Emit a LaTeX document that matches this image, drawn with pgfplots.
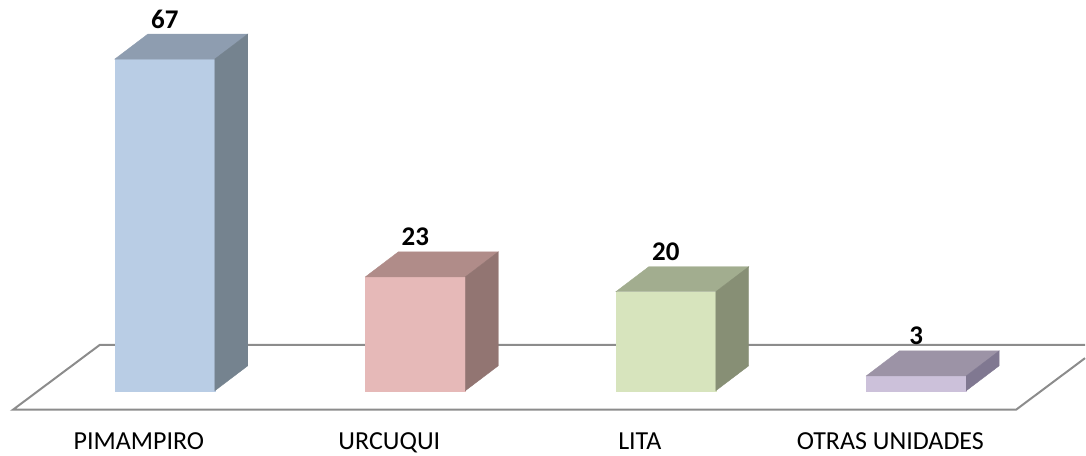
\documentclass[border=0pt]{standalone}
\usepackage{pgfplots}
\pgfplotsset{compat=1.18}
\usepackage{fontspec}
\setmainfont{Carlito}

% front / top / side colours
\definecolor{fA}{HTML}{B9CDE5}\definecolor{tA}{HTML}{8E9DB0}\definecolor{sA}{HTML}{75838F}
\definecolor{fB}{HTML}{E6B9B8}\definecolor{tB}{HTML}{B08C89}\definecolor{sB}{HTML}{927572}
\definecolor{fC}{HTML}{D7E4BD}\definecolor{tC}{HTML}{A2AD8F}\definecolor{sC}{HTML}{878F75}
\definecolor{fD}{HTML}{CCC1DA}\definecolor{tD}{HTML}{9C93A6}\definecolor{sD}{HTML}{807891}

\pgfdeclareplotmark{nomark}{}

\pgfplotsset{
  box3d/.style n args={3}{
    only marks, mark=nomark, scatter,
    visualization depends on={rawy \as \rawy},
    scatter/@pre marker code/.code={
      \pgfmathsetmacro\hh{\rawy*4.955}
      \pgfmathtruncatemacro\vv{\rawy}
      \fill[#1] (-50pt,0pt) rectangle (50pt,-\hh pt);
      \fill[#2] (-50pt,0pt) -- (50pt,0pt) -- (83pt,25pt) -- (-17pt,25pt) -- cycle;
      \fill[#3] (50pt,0pt) -- (83pt,25pt) -- (83pt,25pt-\hh pt) -- (50pt,-\hh pt) -- cycle;
      \node[anchor=base, inner sep=0pt, font=\bfseries\fontsize{27}{30}\selectfont]
        at (0pt,31pt) {\vv};
    },
    scatter/@post marker code/.code={},
  },
}

\begin{document}
\begin{tikzpicture}
\begin{axis}[
  scale only axis,
  x=250.7pt, y=4.955pt,
  xmin=-0.6582, xmax=3.6735,
  ymin=-13.12, ymax=78.91,
  clip=false,
  axis line style={draw=none},
  major tick length=0pt,
  ytick=\empty,
  xtick={0,1,2,3},
  xticklabels={PIMAMPIRO,URCUQUI,LITA,OTRAS UNIDADES},
  xticklabel style={font=\fontsize{26}{30}\selectfont, anchor=base,
    inner sep=0pt, yshift=6pt, xshift=-26pt},
]
  % floor
  \draw[line width=2pt, color=black!45, shift={(axis cs:0,0)}]
    (921pt,32.6pt) -- (852pt,-19pt) -- (-152pt,-19pt) -- (-65pt,46pt) -- (921pt,46pt);

  \addplot[box3d={fA}{tA}{sA}] coordinates {(0,67)};
  \addplot[box3d={fB}{tB}{sB}] coordinates {(1,23)};
  \addplot[box3d={fC}{tC}{sC}] coordinates {(2,20)};
  \addplot[box3d={fD}{tD}{sD}] coordinates {(3,3)};
\end{axis}
\end{tikzpicture}
\end{document}
